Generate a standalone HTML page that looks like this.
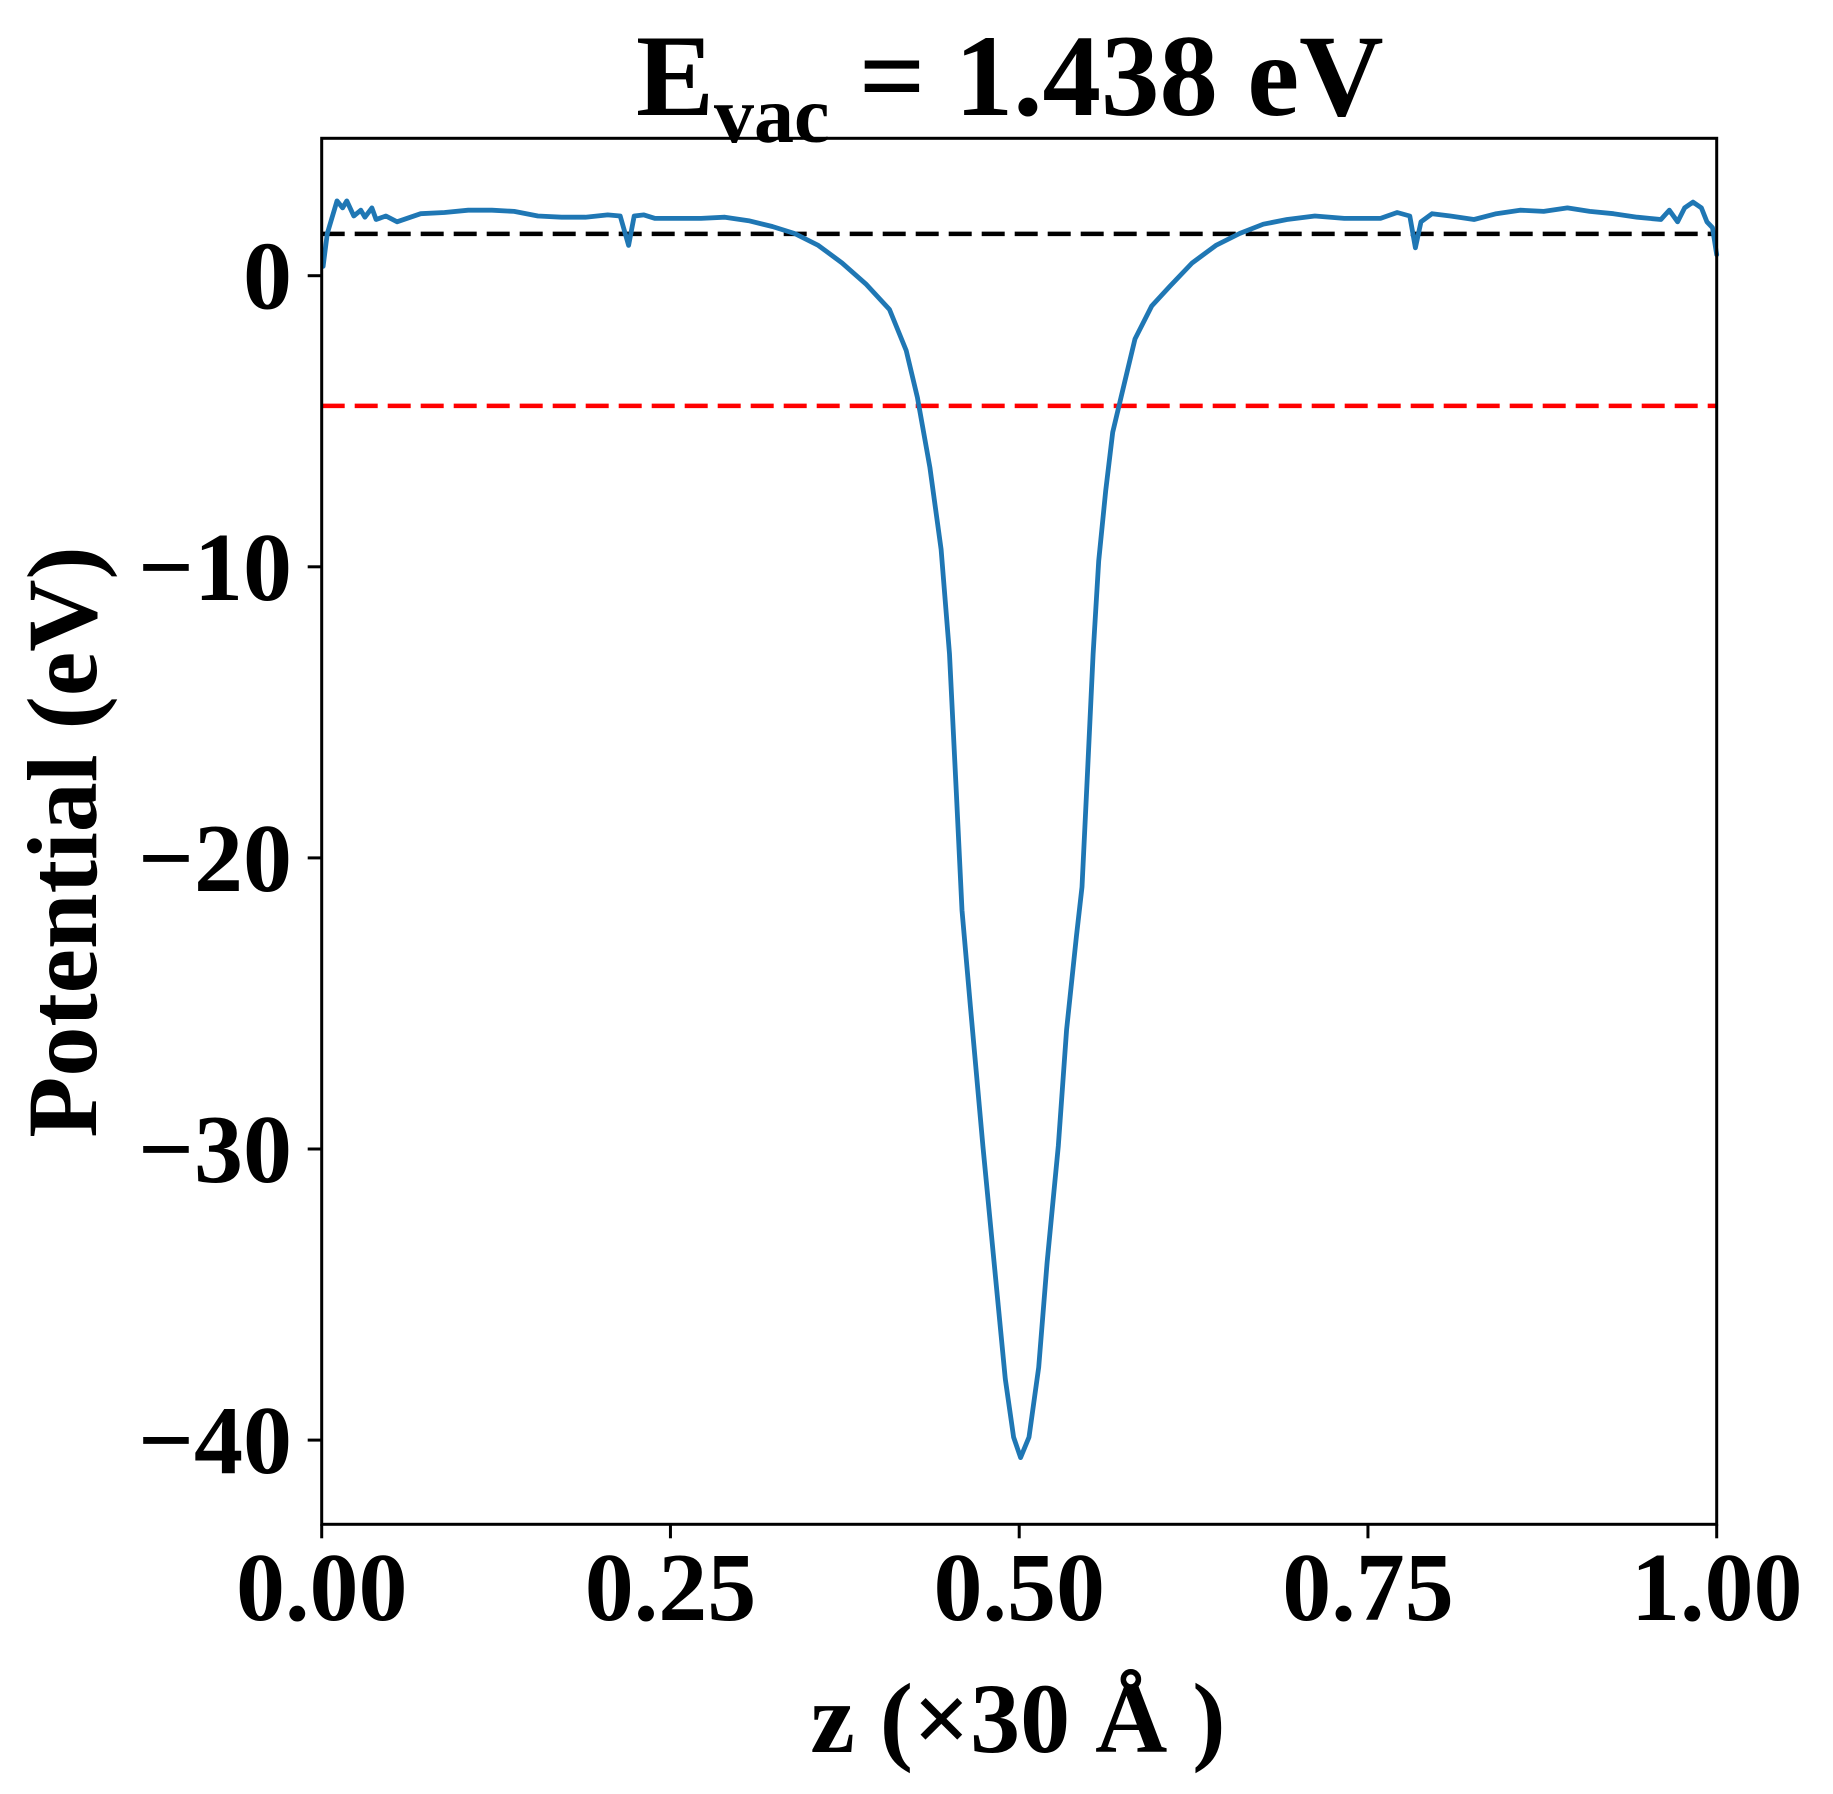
<!DOCTYPE html>
<html><head><meta charset="utf-8"><style>
html,body{margin:0;padding:0;background:#fff;}
svg{display:block;font-family:"Liberation Serif","Times New Roman",serif;font-weight:bold;}
</style></head><body>
<svg id="chart" width="1833" height="1794" viewBox="0 0 1833 1794">
<text x="636" y="115" font-size="117">E<tspan dy="27" font-size="80">vac</tspan><tspan dy="-27"> = 1.438 eV</tspan></text>
<g id="plot"></g>
<text x="1018" y="1752" font-size="100" text-anchor="middle">z (×30 Å )</text>
<text transform="translate(96,842) rotate(-90)" font-size="100" text-anchor="middle">Potential (eV)</text>
</svg>
<script>
const zValues=[0.001,0.004,0.011,0.015,0.018,0.023,0.028,0.031,0.036,0.039,0.046,0.054,0.071,0.088,0.105,0.122,0.138,0.155,0.172,0.189,0.205,0.214,0.220,0.224,0.231,0.239,0.256,0.272,0.289,0.306,0.323,0.339,0.356,0.373,0.390,0.407,0.419,0.427,0.436,0.444,0.450,0.455,0.459,0.465,0.474,0.482,0.490,0.496,0.501,0.507,0.514,0.520,0.528,0.534,0.541,0.545,0.549,0.553,0.557,0.562,0.567,0.573,0.583,0.595,0.608,0.624,0.641,0.658,0.675,0.692,0.712,0.733,0.759,0.771,0.780,0.784,0.788,0.796,0.809,0.826,0.842,0.859,0.876,0.893,0.909,0.926,0.943,0.960,0.966,0.972,0.977,0.983,0.989,0.993,0.997,1.000];
const potValues=[0.32,1.45,2.57,2.33,2.57,2.05,2.25,2.01,2.33,1.93,2.05,1.85,2.13,2.17,2.25,2.25,2.21,2.05,2.01,2.01,2.09,2.05,1.04,2.05,2.09,1.97,1.97,1.97,2.01,1.89,1.69,1.45,1.04,0.44,-0.28,-1.16,-2.57,-4.18,-6.59,-9.40,-13.0,-17.8,-21.8,-25.1,-29.9,-33.9,-37.9,-39.9,-40.6,-39.9,-37.5,-33.9,-29.9,-25.9,-22.7,-21.0,-17.0,-13.0,-9.80,-7.39,-5.38,-4.18,-2.17,-1.04,-0.36,0.44,1.04,1.45,1.77,1.93,2.05,1.97,1.97,2.17,2.05,0.96,1.85,2.13,2.05,1.93,2.13,2.25,2.21,2.33,2.21,2.13,2.01,1.93,2.25,1.85,2.33,2.53,2.33,1.85,1.65,0.72];
const vacuumLevel=1.438;
const fermiLevel=-4.47;
const xTicks=[0,0.25,0.5,0.75,1];
const xTickLabels=["0.00","0.25","0.50","0.75","1.00"];
const yTicks=[0,-10,-20,-30,-40];
const yTickLabels=["0","\u221210","\u221220","\u221230","\u221240"];

const L=321.7,R=1716.7,T=138.3,B=1524.3,Y0=275.7,PPU=29.11;
const xs=v=>L+v*(R-L);
const ys=v=>Y0-v*PPU;
const NS="http://www.w3.org/2000/svg";
const g=document.getElementById('plot');
function mk(tag,attrs){const e=document.createElementNS(NS,tag);for(const k in attrs)e.setAttribute(k,attrs[k]);g.appendChild(e);return e;}

const vac=mk('line',{x1:L,x2:R,y1:ys(vacuumLevel),y2:ys(vacuumLevel),stroke:'#000','stroke-width':4.5,'stroke-dasharray':'23 10'});


const fer=mk('line',{x1:L,x2:R,y1:ys(fermiLevel),y2:ys(fermiLevel),stroke:'#ff0000','stroke-width':4.5,'stroke-dasharray':'23 10'});



let d='';
zValues.forEach((z,i)=>{d+=(i?'L':'M')+xs(z).toFixed(1)+' '+ys(potValues[i]).toFixed(1);});
const line=mk('path',{d:d,fill:'none',stroke:'#1f77b4','stroke-width':4.8,'stroke-linejoin':'round','stroke-linecap':'round'});



const frame=mk('rect',{x:L,y:T,width:R-L,height:B-T,fill:'none',stroke:'#000','stroke-width':3});



xTicks.forEach((v,i)=>{
  const t=mk('line',{x1:xs(v),x2:xs(v),y1:B,y2:B+14,stroke:'#000','stroke-width':3});
  
  
  const lb=mk('text',{x:xs(v),y:1620,'font-size':98,'text-anchor':'middle'});
  lb.textContent=xTickLabels[i];
  
  
});
yTicks.forEach((v,i)=>{
  const t=mk('line',{x1:L-14,x2:L,y1:ys(v),y2:ys(v),stroke:'#000','stroke-width':3});
  
  
  const lb=mk('text',{x:292,y:ys(v)+33,'font-size':98,'text-anchor':'end'});
  lb.textContent=yTickLabels[i];
  
  
});
</script>
</body></html>
